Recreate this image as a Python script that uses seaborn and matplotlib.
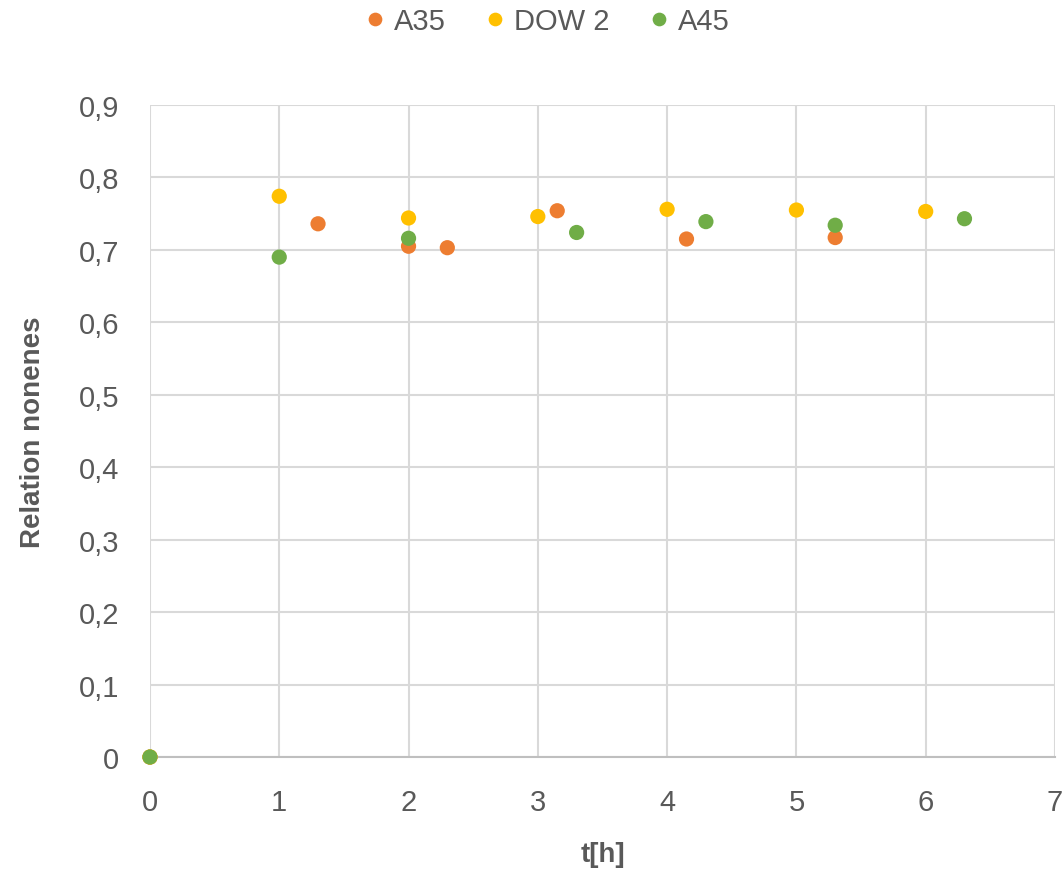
import numpy as np
import pandas as pd
import matplotlib
matplotlib.use("Agg")
import matplotlib.pyplot as plt
import seaborn as sns

series_names = ["A35", "DOW 2", "A45"]
a35_t = [0, 1.3, 2.0, 2.3, 3.15, 4.15, 5.3]
a35_v = [0, 0.736, 0.705, 0.703, 0.754, 0.715, 0.717]
dow_t = [0, 1, 2, 3, 4, 5, 6]
dow_v = [0, 0.774, 0.744, 0.746, 0.756, 0.755, 0.753]
a45_t = [0, 1.0, 2.0, 3.3, 4.3, 5.3, 6.3]
a45_v = [0, 0.690, 0.716, 0.724, 0.739, 0.734, 0.743]
colors = ["#ED7D31", "#FFC000", "#70AD47"]
x_ticks = [0, 1, 2, 3, 4, 5, 6, 7]
y_ticks = [0, 0.1, 0.2, 0.3, 0.4, 0.5, 0.6, 0.7, 0.8, 0.9]
y_tick_labels = ["0", "0,1", "0,2", "0,3", "0,4", "0,5", "0,6", "0,7", "0,8", "0,9"]

df = pd.concat([
    pd.DataFrame({"t": a35_t, "v": a35_v, "s": series_names[0]}),
    pd.DataFrame({"t": dow_t, "v": dow_v, "s": series_names[1]}),
    pd.DataFrame({"t": a45_t, "v": a45_v, "s": series_names[2]}),
])

sns.set_style("white")
plt.rcParams["font.family"] = ["Liberation Sans", "DejaVu Sans"]
txt = "#595959"
grid = "#D9D9D9"

fig = plt.figure(figsize=(10.62, 8.7), dpi=100)
ax = fig.add_axes([0.1412, 0.1287, 0.8522, 0.7495])
sns.scatterplot(data=df, x="t", y="v", hue="s", palette=dict(zip(series_names, colors)),
                s=120, edgecolor="none", ax=ax, legend=True, zorder=3, clip_on=False)

ax.set_xlim(0, 7)
ax.set_ylim(0, 0.9)
ax.set_xticks(x_ticks)
ax.set_xticklabels([str(t) for t in x_ticks])
ax.set_yticks(y_ticks)
ax.set_yticklabels(y_tick_labels)
ax.grid(True, color=grid, linewidth=1.5)
ax.set_axisbelow(True)
for sp in ["top", "right", "left"]:
    ax.spines[sp].set_visible(False)
ax.spines["bottom"].set_color("#BFBFBF")
ax.spines["bottom"].set_linewidth(1.5)
ax.tick_params(axis="both", length=0, labelsize=21, labelcolor=txt, pad=22)
ax.set_xlabel("t[h]", fontsize=20, fontweight="bold", color=txt)
ax.set_ylabel("Relation nonenes", fontsize=20, fontweight="bold", color=txt)
ax.yaxis.set_label_coords(33 / 1062, 0.5 * (0.1287 + 0.8782), transform=fig.transFigure)
ax.xaxis.set_label_coords(0.5 * (0.1412 + 0.9934), 1 - 855 / 870, transform=fig.transFigure)
ax.xaxis.label.set_verticalalignment("center")
ax.yaxis.label.set_verticalalignment("center")

handles, labels = ax.get_legend_handles_labels()
ax.legend(handles, labels, loc="center", bbox_to_anchor=(0.516, 1 - 22 / 870),
          bbox_transform=fig.transFigure, ncol=3, frameon=False, fontsize=21,
          labelcolor=txt, handlelength=0.6, handletextpad=0.35, columnspacing=1.4,
          markerscale=0.9, borderaxespad=0.0)
fig.savefig("out.png", dpi=100)
